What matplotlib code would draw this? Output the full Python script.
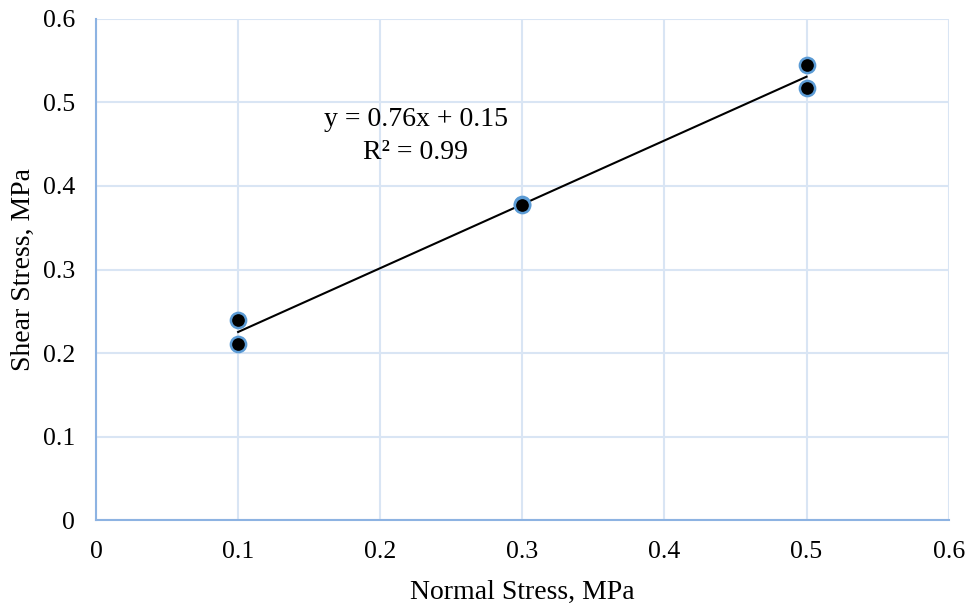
import numpy as np
import matplotlib.pyplot as plt

plt.rcParams['font.family'] = ['Liberation Serif', 'DejaVu Serif']

# data
normal_stress = [0.1, 0.1, 0.3, 0.3, 0.5, 0.5]
shear_stress = [0.240, 0.211, 0.378, 0.377, 0.545, 0.517]
ticks = [0, 0.1, 0.2, 0.3, 0.4, 0.5, 0.6]
tick_labels = ["0", "0.1", "0.2", "0.3", "0.4", "0.5", "0.6"]

fig = plt.figure(figsize=(9.7, 6.07), dpi=100)
ax = fig.add_axes([0.099, 0.143, 0.879, 0.826])

# linear trendline
m, b = np.polyfit(normal_stress, shear_stress, 1)
xs = np.array([min(normal_stress), max(normal_stress)])
ax.plot(xs, m * xs + b, color='black', lw=1.5, zorder=3)

ax.scatter(normal_stress, shear_stress, s=120, c='black',
           edgecolors='#5b9bd5', linewidths=1.8, zorder=4)

ax.text(0.225, 0.479, f"y = {m:.2f}x + {b:.2f}", ha='center', va='center', fontsize=20)
ax.text(0.225, 0.440, "R² = 0.99", ha='center', va='center', fontsize=20)

ax.set_xlim(0, 0.6)
ax.set_ylim(0, 0.6)
ax.set_xticks(ticks)
ax.set_xticklabels(tick_labels)
ax.set_yticks(ticks)
ax.set_yticklabels(tick_labels)
ax.tick_params(length=0, labelsize=18.5)
ax.tick_params(axis='x', pad=15)
ax.tick_params(axis='y', pad=15)

ax.grid(True, color='#d9e5f4', lw=1.5)
ax.set_axisbelow(True)
for side in ['top', 'right']:
    ax.spines[side].set_visible(False)
for side in ['left', 'bottom']:
    ax.spines[side].set_color('#8db3e2')
    ax.spines[side].set_linewidth(1.5)

ax.set_xlabel("Normal Stress, MPa", fontsize=20, labelpad=12)
ax.set_ylabel("Shear Stress, MPa", fontsize=20, labelpad=5)

fig.savefig("out.png", dpi=100)
